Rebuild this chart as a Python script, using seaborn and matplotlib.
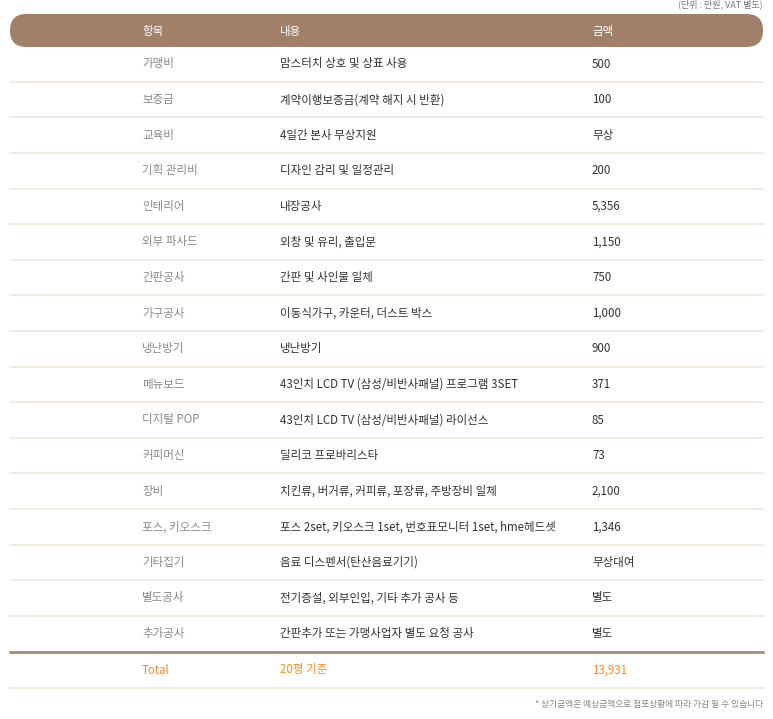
import matplotlib
matplotlib.use("Agg")
import seaborn as sns
from matplotlib import pyplot as plt
from matplotlib.patches import FancyBboxPatch

sns.set_theme(style="white", font="Noto Sans CJK KR")

headers = ["항목", "내용", "금액"]
items = ["가맹비", "보증금", "교육비", "기획 관리비", "인테리어", "외부 파사드", "간판공사", "가구공사",
         "냉난방기", "메뉴보드", "디지털 POP", "커피머신", "장비", "포스, 키오스크", "기타집기", "별도공사", "추가공사"]
contents = ["맘스터치 상호 및 상표 사용", "계약이행보증금(계약 해지 시 반환)", "4일간 본사 무상지원",
            "디자인 감리 및 일정관리", "내장공사", "외창 및 유리, 출입문", "간판 및 사인물 일체",
            "이동식가구, 카운터, 더스트 박스", "냉난방기", "43인치 LCD TV (삼성/비반사패널) 프로그램 3SET",
            "43인치 LCD TV (삼성/비반사패널) 라이선스", "딜리코 프로바리스타",
            "치킨류, 버거류, 커피류, 포장류, 주방장비 일체",
            "포스 2set, 키오스크 1set, 번호표모니터 1set, hme헤드셋", "음료 디스펜서(탄산음료기기)",
            "전기증설, 외부인입, 기타 추가 공사 등", "간판추가 또는 가맹사업자 별도 요청 공사"]
amounts = ["500", "100", "무상", "200", "5,356", "1,150", "750", "1,000", "900", "371", "85", "73",
           "2,100", "1,346", "무상대여", "별도", "별도"]
total = ["Total", "20평 기준", "13,931"]
note = "* 상기금액은 예상금액으로 점포상황에 따라 가감 될 수 있습니다"
unit = "(단위 : 만원, VAT 별도)"

fig = plt.figure(figsize=(7.73, 7.19), dpi=100)
ax = fig.add_axes([0, 0, 1, 1])
ax.set_xlim(0, 773)
ax.set_ylim(719, 0)
ax.axis("off")

col_x = [142, 280, 592]
fs = 8.3

ax.text(763, 4, unit, ha="right", va="center", fontsize=6.5, color="#777777")

ax.add_patch(FancyBboxPatch((10, 14), 753, 33, boxstyle="round,pad=0,rounding_size=16.5",
                            facecolor="#a08069", edgecolor="none"))
for x, h in zip(col_x, headers):
    ax.text(x, 31, h, ha="left", va="center", fontsize=fs, color="white")

y0, dy = 64, 35.6
for i, (it, ct, am) in enumerate(zip(items, contents, amounts)):
    y = y0 + i * dy
    ax.text(col_x[0], y, it, ha="left", va="center", fontsize=fs, color="#8a8a8a")
    ax.text(col_x[1], y, ct, ha="left", va="center", fontsize=fs, color="#333333")
    ax.text(col_x[2], y, am, ha="left", va="center", fontsize=fs, color="#333333")
    if i < len(items) - 1:
        ax.plot([10, 763], [y + dy / 2, y + dy / 2], color="#efe7de", lw=1.2)

ax.plot([10, 763], [652, 652], color="#a89282", lw=2.2)
for x, t in zip(col_x, total):
    ax.text(x, 670, t, ha="left", va="center", fontsize=fs, color="#ff8a1e")
ax.plot([10, 763], [688, 688], color="#efe7de", lw=1.2)

ax.text(763, 705, note, ha="right", va="center", fontsize=6.3, color="#888888")

fig.savefig("out.png", dpi=100)
